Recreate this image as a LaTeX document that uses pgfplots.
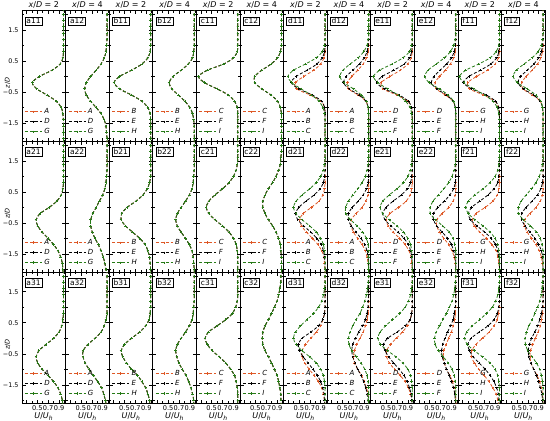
\documentclass[border=0pt]{standalone}
\usepackage{fontspec}
\setmainfont{DejaVu Sans}
\usepackage{pgfplots}
\usepackage{pgfplotstable}
\pgfplotsset{compat=1.18}
\definecolor{cr}{RGB}{222,88,38}
\definecolor{cg}{RGB}{38,122,22}

% columns a-c: the three series coincide, one column per panel
\pgfplotstableread[row sep=\\]{
z a11 a12 b11 b12 c11 c12\\
2.2 0.98 0.98 0.98 0.98 0.98 0.98\\
2.0 0.98 0.98 0.98 0.98 0.98 0.98\\
1.8 0.98 0.98 0.98 0.98 0.98 0.98\\
1.6 0.98 0.98 0.98 0.98 0.98 0.98\\
1.4 0.98 0.98 0.98 0.98 0.98 0.98\\
1.2 0.98 0.98 0.98 0.98 0.98 0.98\\
1.0 0.98 0.97 0.98 0.98 0.98 0.98\\
0.8 0.98 0.96 0.97 0.97 0.97 0.96\\
0.6 0.97 0.93 0.93 0.95 0.90 0.91\\
0.4 0.92 0.87 0.82 0.87 0.72 0.79\\
0.2 0.77 0.78 0.63 0.74 0.42 0.62\\
0.0 0.54 0.68 0.41 0.59 0.26 0.49\\
-0.2 0.41 0.60 0.31 0.52 0.37 0.49\\
-0.4 0.49 0.57 0.41 0.57 0.60 0.62\\
-0.6 0.68 0.60 0.63 0.69 0.81 0.79\\
-0.8 0.85 0.68 0.82 0.81 0.92 0.91\\
-1.0 0.94 0.78 0.93 0.90 0.97 0.96\\
-1.2 0.97 0.87 0.97 0.95 0.98 0.98\\
-1.4 0.98 0.93 0.98 0.97 0.98 0.98\\
-1.6 0.98 0.96 0.98 0.98 0.98 0.98\\
-1.8 0.98 0.97 0.98 0.98 0.98 0.98\\
-2.0 0.98 0.98 0.98 0.98 0.98 0.98\\
-2.2 0.98 0.98 0.98 0.98 0.98 0.98\\
}\rowA
\pgfplotstableread[row sep=\\]{
z a21 a22 b21 b22 c21 c22\\
2.2 0.98 0.98 0.98 0.98 0.98 0.98\\
2.0 0.98 0.98 0.98 0.98 0.98 0.98\\
1.8 0.98 0.98 0.98 0.98 0.98 0.98\\
1.6 0.98 0.98 0.98 0.98 0.98 0.97\\
1.4 0.98 0.98 0.98 0.98 0.97 0.96\\
1.2 0.98 0.98 0.98 0.98 0.95 0.93\\
1.0 0.98 0.97 0.98 0.97 0.90 0.88\\
0.8 0.98 0.96 0.96 0.96 0.82 0.82\\
0.6 0.97 0.94 0.92 0.94 0.70 0.74\\
0.4 0.94 0.90 0.84 0.89 0.56 0.68\\
0.2 0.86 0.84 0.71 0.82 0.45 0.64\\
0.0 0.72 0.78 0.55 0.74 0.40 0.64\\
-0.2 0.55 0.72 0.45 0.67 0.45 0.68\\
-0.4 0.48 0.68 0.44 0.64 0.56 0.74\\
-0.6 0.51 0.68 0.52 0.67 0.70 0.82\\
-0.8 0.59 0.71 0.65 0.74 0.82 0.88\\
-1.0 0.70 0.76 0.78 0.82 0.90 0.93\\
-1.2 0.80 0.82 0.88 0.89 0.95 0.96\\
-1.4 0.88 0.87 0.93 0.94 0.97 0.97\\
-1.6 0.93 0.91 0.96 0.96 0.98 0.98\\
-1.8 0.96 0.94 0.97 0.97 0.98 0.98\\
-2.0 0.97 0.96 0.98 0.98 0.98 0.98\\
-2.2 0.98 0.97 0.98 0.98 0.98 0.98\\
}\rowB
\pgfplotstableread[row sep=\\]{
z a31 a32 b31 b32 c31 c32\\
2.2 0.98 0.98 0.98 0.98 0.98 0.98\\
2.0 0.98 0.98 0.98 0.98 0.98 0.97\\
1.8 0.98 0.98 0.98 0.98 0.98 0.97\\
1.6 0.98 0.98 0.98 0.98 0.98 0.95\\
1.4 0.98 0.98 0.98 0.98 0.98 0.93\\
1.2 0.98 0.98 0.98 0.98 0.97 0.90\\
1.0 0.98 0.98 0.98 0.97 0.94 0.85\\
0.8 0.98 0.98 0.97 0.96 0.88 0.80\\
0.6 0.97 0.96 0.95 0.94 0.76 0.74\\
0.4 0.95 0.93 0.89 0.89 0.60 0.68\\
0.2 0.90 0.87 0.78 0.82 0.44 0.64\\
0.0 0.80 0.76 0.63 0.74 0.38 0.63\\
-0.2 0.66 0.63 0.50 0.67 0.42 0.64\\
-0.4 0.53 0.54 0.44 0.64 0.51 0.68\\
-0.6 0.48 0.54 0.47 0.66 0.64 0.74\\
-0.8 0.51 0.58 0.54 0.70 0.76 0.80\\
-1.0 0.59 0.65 0.63 0.76 0.85 0.85\\
-1.2 0.70 0.73 0.74 0.83 0.92 0.90\\
-1.4 0.80 0.81 0.82 0.88 0.95 0.93\\
-1.6 0.88 0.88 0.89 0.92 0.97 0.95\\
-1.8 0.93 0.92 0.93 0.95 0.98 0.97\\
-2.0 0.96 0.95 0.96 0.97 0.98 0.97\\
-2.2 0.97 0.97 0.97 0.97 0.98 0.98\\
}\rowC

% columns d-f: r = red, k = black, g = green
\pgfplotstableread[row sep=\\]{
z r k g\\
2.2 0.98 0.98 0.98\\ 2.0 0.98 0.98 0.98\\ 1.8 0.98 0.98 0.98\\ 1.6 0.98 0.98 0.98\\
1.4 0.98 0.98 0.98\\ 1.2 0.98 0.98 0.98\\ 1.0 0.98 0.98 0.97\\ 0.8 0.98 0.97 0.93\\
0.6 0.96 0.93 0.82\\ 0.4 0.90 0.83 0.62\\ 0.2 0.77 0.65 0.40\\ 0.0 0.59 0.45 0.30\\
-0.2 0.44 0.36 0.37\\ -0.4 0.46 0.50 0.54\\ -0.6 0.71 0.75 0.73\\ -0.8 0.91 0.92 0.87\\
-1.0 0.97 0.97 0.94\\ -1.2 0.98 0.98 0.97\\ -1.4 0.98 0.98 0.98\\ -1.6 0.98 0.98 0.98\\
-1.8 0.98 0.98 0.98\\ -2.0 0.98 0.98 0.98\\ -2.2 0.98 0.98 0.98\\
}\dA
\pgfplotstableread[row sep=\\]{
z r k g\\
2.2 0.98 0.98 0.98\\ 2.0 0.98 0.98 0.98\\ 1.8 0.98 0.98 0.98\\ 1.6 0.98 0.98 0.98\\
1.4 0.98 0.98 0.98\\ 1.2 0.98 0.98 0.97\\ 1.0 0.98 0.97 0.95\\ 0.8 0.97 0.95 0.89\\
0.6 0.94 0.90 0.79\\ 0.4 0.88 0.81 0.64\\ 0.2 0.78 0.69 0.51\\ 0.0 0.67 0.57 0.45\\
-0.2 0.59 0.52 0.53\\ -0.4 0.61 0.62 0.70\\ -0.6 0.79 0.81 0.85\\ -0.8 0.93 0.93 0.94\\
-1.0 0.97 0.97 0.97\\ -1.2 0.98 0.98 0.98\\ -1.4 0.98 0.98 0.98\\ -1.6 0.98 0.98 0.98\\
-1.8 0.98 0.98 0.98\\ -2.0 0.98 0.98 0.98\\ -2.2 0.98 0.98 0.98\\
}\dB
\pgfplotstableread[row sep=\\]{
z r k g\\
2.2 0.98 0.98 0.98\\ 2.0 0.98 0.98 0.98\\ 1.8 0.98 0.98 0.98\\ 1.6 0.98 0.98 0.98\\
1.4 0.98 0.98 0.98\\ 1.2 0.98 0.98 0.98\\ 1.0 0.98 0.98 0.97\\ 0.8 0.98 0.97 0.93\\
0.6 0.96 0.93 0.81\\ 0.4 0.90 0.83 0.61\\ 0.2 0.76 0.64 0.38\\ 0.0 0.57 0.43 0.27\\
-0.2 0.41 0.33 0.35\\ -0.4 0.44 0.47 0.53\\ -0.6 0.70 0.74 0.72\\ -0.8 0.90 0.91 0.86\\
-1.0 0.97 0.97 0.94\\ -1.2 0.98 0.98 0.97\\ -1.4 0.98 0.98 0.98\\ -1.6 0.98 0.98 0.98\\
-1.8 0.98 0.98 0.98\\ -2.0 0.98 0.98 0.98\\ -2.2 0.98 0.98 0.98\\
}\eA
\pgfplotstableread[row sep=\\]{
z r k g\\
2.2 0.98 0.98 0.98\\ 2.0 0.98 0.98 0.98\\ 1.8 0.98 0.98 0.98\\ 1.6 0.98 0.98 0.98\\
1.4 0.98 0.98 0.98\\ 1.2 0.98 0.98 0.97\\ 1.0 0.98 0.97 0.94\\ 0.8 0.97 0.95 0.88\\
0.6 0.94 0.90 0.77\\ 0.4 0.88 0.81 0.62\\ 0.2 0.79 0.69 0.47\\ 0.0 0.68 0.58 0.41\\
-0.2 0.60 0.53 0.49\\ -0.4 0.62 0.63 0.68\\ -0.6 0.79 0.81 0.84\\ -0.8 0.93 0.93 0.94\\
-1.0 0.97 0.97 0.97\\ -1.2 0.98 0.98 0.98\\ -1.4 0.98 0.98 0.98\\ -1.6 0.98 0.98 0.98\\
-1.8 0.98 0.98 0.98\\ -2.0 0.98 0.98 0.98\\ -2.2 0.98 0.98 0.98\\
}\eB
\pgfplotstableread[row sep=\\]{
z r k g\\
2.2 0.98 0.98 0.98\\ 2.0 0.98 0.98 0.98\\ 1.8 0.98 0.98 0.98\\ 1.6 0.98 0.98 0.98\\
1.4 0.98 0.98 0.98\\ 1.2 0.98 0.98 0.98\\ 1.0 0.98 0.98 0.97\\ 0.8 0.98 0.97 0.92\\
0.6 0.96 0.93 0.81\\ 0.4 0.90 0.82 0.60\\ 0.2 0.76 0.63 0.36\\ 0.0 0.56 0.42 0.25\\
-0.2 0.40 0.32 0.33\\ -0.4 0.43 0.47 0.51\\ -0.6 0.69 0.74 0.71\\ -0.8 0.90 0.91 0.86\\
-1.0 0.97 0.97 0.94\\ -1.2 0.98 0.98 0.97\\ -1.4 0.98 0.98 0.98\\ -1.6 0.98 0.98 0.98\\
-1.8 0.98 0.98 0.98\\ -2.0 0.98 0.98 0.98\\ -2.2 0.98 0.98 0.98\\
}\fA
\pgfplotstableread[row sep=\\]{
z r k g\\
2.2 0.98 0.98 0.98\\ 2.0 0.98 0.98 0.98\\ 1.8 0.98 0.98 0.98\\ 1.6 0.98 0.98 0.98\\
1.4 0.98 0.98 0.98\\ 1.2 0.98 0.98 0.97\\ 1.0 0.98 0.97 0.95\\ 0.8 0.97 0.95 0.89\\
0.6 0.94 0.90 0.78\\ 0.4 0.88 0.81 0.63\\ 0.2 0.78 0.69 0.49\\ 0.0 0.67 0.57 0.43\\
-0.2 0.59 0.52 0.51\\ -0.4 0.61 0.62 0.69\\ -0.6 0.79 0.81 0.85\\ -0.8 0.93 0.93 0.94\\
-1.0 0.97 0.97 0.97\\ -1.2 0.98 0.98 0.98\\ -1.4 0.98 0.98 0.98\\ -1.6 0.98 0.98 0.98\\
-1.8 0.98 0.98 0.98\\ -2.0 0.98 0.98 0.98\\ -2.2 0.98 0.98 0.98\\
}\fB
% row 2
\pgfplotstableread[row sep=\\]{
z r k g\\
2.2 0.98 0.98 0.98\\ 2.0 0.98 0.98 0.98\\ 1.8 0.98 0.98 0.98\\ 1.6 0.98 0.98 0.98\\
1.4 0.98 0.98 0.97\\ 1.2 0.98 0.98 0.95\\ 1.0 0.98 0.97 0.90\\ 0.8 0.98 0.95 0.82\\
0.6 0.97 0.89 0.70\\ 0.4 0.94 0.78 0.56\\ 0.2 0.87 0.63 0.45\\ 0.0 0.73 0.50 0.40\\
-0.2 0.58 0.44 0.45\\ -0.4 0.51 0.48 0.56\\ -0.6 0.55 0.59 0.70\\ -0.8 0.64 0.72 0.82\\
-1.0 0.75 0.83 0.90\\ -1.2 0.85 0.91 0.95\\ -1.4 0.92 0.95 0.97\\ -1.6 0.96 0.97 0.98\\
-1.8 0.97 0.98 0.98\\ -2.0 0.98 0.98 0.98\\ -2.2 0.98 0.98 0.98\\
}\dC
\pgfplotstableread[row sep=\\]{
z r k g\\
2.2 0.98 0.98 0.98\\ 2.0 0.98 0.98 0.98\\ 1.8 0.98 0.98 0.98\\ 1.6 0.98 0.98 0.98\\
1.4 0.98 0.98 0.97\\ 1.2 0.98 0.98 0.95\\ 1.0 0.98 0.98 0.92\\ 0.8 0.98 0.97 0.86\\
0.6 0.98 0.94 0.78\\ 0.4 0.97 0.88 0.69\\ 0.2 0.93 0.79 0.61\\ 0.0 0.86 0.68 0.56\\
-0.2 0.75 0.61 0.56\\ -0.4 0.66 0.61 0.65\\ -0.6 0.66 0.66 0.77\\ -0.8 0.70 0.75 0.87\\
-1.0 0.78 0.84 0.94\\ -1.2 0.86 0.91 0.97\\ -1.4 0.92 0.95 0.98\\ -1.6 0.95 0.97 0.98\\
-1.8 0.97 0.98 0.98\\ -2.0 0.98 0.98 0.98\\ -2.2 0.98 0.98 0.98\\
}\dD
\pgfplotstableread[row sep=\\]{
z r k g\\
2.2 0.98 0.98 0.98\\ 2.0 0.98 0.98 0.98\\ 1.8 0.98 0.98 0.98\\ 1.6 0.98 0.98 0.98\\
1.4 0.98 0.98 0.97\\ 1.2 0.98 0.98 0.95\\ 1.0 0.98 0.97 0.90\\ 0.8 0.98 0.95 0.82\\
0.6 0.97 0.89 0.70\\ 0.4 0.94 0.78 0.56\\ 0.2 0.87 0.63 0.44\\ 0.0 0.73 0.50 0.39\\
-0.2 0.57 0.44 0.44\\ -0.4 0.50 0.48 0.56\\ -0.6 0.54 0.59 0.70\\ -0.8 0.63 0.72 0.82\\
-1.0 0.75 0.83 0.90\\ -1.2 0.85 0.91 0.95\\ -1.4 0.92 0.95 0.97\\ -1.6 0.96 0.97 0.98\\
-1.8 0.97 0.98 0.98\\ -2.0 0.98 0.98 0.98\\ -2.2 0.98 0.98 0.98\\
}\eC
\pgfplotstableread[row sep=\\]{
z r k g\\
2.2 0.98 0.98 0.98\\ 2.0 0.98 0.98 0.98\\ 1.8 0.98 0.98 0.98\\ 1.6 0.98 0.98 0.98\\
1.4 0.98 0.98 0.97\\ 1.2 0.98 0.98 0.95\\ 1.0 0.98 0.98 0.91\\ 0.8 0.98 0.97 0.85\\
0.6 0.98 0.94 0.76\\ 0.4 0.97 0.87 0.66\\ 0.2 0.93 0.77 0.56\\ 0.0 0.85 0.65 0.51\\
-0.2 0.73 0.57 0.51\\ -0.4 0.63 0.57 0.61\\ -0.6 0.63 0.63 0.74\\ -0.8 0.68 0.73 0.86\\
-1.0 0.76 0.83 0.93\\ -1.2 0.85 0.90 0.96\\ -1.4 0.91 0.94 0.98\\ -1.6 0.95 0.97 0.98\\
-1.8 0.97 0.98 0.98\\ -2.0 0.98 0.98 0.98\\ -2.2 0.98 0.98 0.98\\
}\eD
\pgfplotstableread[row sep=\\]{
z r k g\\
2.2 0.98 0.98 0.98\\ 2.0 0.98 0.98 0.98\\ 1.8 0.98 0.98 0.98\\ 1.6 0.98 0.98 0.98\\
1.4 0.98 0.98 0.97\\ 1.2 0.98 0.98 0.95\\ 1.0 0.98 0.97 0.90\\ 0.8 0.98 0.95 0.81\\
0.6 0.97 0.88 0.68\\ 0.4 0.94 0.77 0.53\\ 0.2 0.86 0.62 0.41\\ 0.0 0.72 0.47 0.36\\
-0.2 0.55 0.41 0.41\\ -0.4 0.48 0.45 0.53\\ -0.6 0.52 0.57 0.68\\ -0.8 0.62 0.71 0.81\\
-1.0 0.74 0.83 0.90\\ -1.2 0.84 0.91 0.95\\ -1.4 0.92 0.95 0.97\\ -1.6 0.95 0.97 0.98\\
-1.8 0.97 0.98 0.98\\ -2.0 0.98 0.98 0.98\\ -2.2 0.98 0.98 0.98\\
}\fC
\pgfplotstableread[row sep=\\]{
z r k g\\
2.2 0.98 0.98 0.98\\ 2.0 0.98 0.98 0.98\\ 1.8 0.98 0.98 0.98\\ 1.6 0.98 0.98 0.98\\
1.4 0.98 0.98 0.97\\ 1.2 0.98 0.98 0.95\\ 1.0 0.98 0.98 0.91\\ 0.8 0.98 0.97 0.85\\
0.6 0.98 0.94 0.77\\ 0.4 0.97 0.88 0.67\\ 0.2 0.93 0.78 0.58\\ 0.0 0.85 0.67 0.53\\
-0.2 0.74 0.59 0.53\\ -0.4 0.64 0.59 0.62\\ -0.6 0.64 0.65 0.75\\ -0.8 0.69 0.74 0.86\\
-1.0 0.77 0.83 0.93\\ -1.2 0.85 0.90 0.96\\ -1.4 0.91 0.95 0.98\\ -1.6 0.95 0.97 0.98\\
-1.8 0.97 0.98 0.98\\ -2.0 0.98 0.98 0.98\\ -2.2 0.98 0.98 0.98\\
}\fD
% row 3
\pgfplotstableread[row sep=\\]{
z r k g\\
2.2 0.98 0.98 0.98\\ 2.0 0.98 0.98 0.98\\ 1.8 0.98 0.98 0.98\\ 1.6 0.98 0.98 0.97\\
1.4 0.98 0.98 0.95\\ 1.2 0.98 0.98 0.92\\ 1.0 0.98 0.98 0.86\\ 0.8 0.97 0.97 0.77\\
0.6 0.94 0.94 0.65\\ 0.4 0.90 0.86 0.53\\ 0.2 0.82 0.72 0.44\\ 0.0 0.72 0.56 0.40\\
-0.2 0.62 0.49 0.45\\ -0.4 0.56 0.51 0.56\\ -0.6 0.56 0.58 0.70\\ -0.8 0.61 0.67 0.82\\
-1.0 0.69 0.76 0.90\\ -1.2 0.78 0.84 0.95\\ -1.4 0.86 0.90 0.97\\ -1.6 0.92 0.94 0.98\\
-1.8 0.95 0.96 0.98\\ -2.0 0.97 0.97 0.98\\ -2.2 0.98 0.98 0.98\\
}\dE
\pgfplotstableread[row sep=\\]{
z r k g\\
2.2 0.98 0.98 0.98\\ 2.0 0.98 0.98 0.98\\ 1.8 0.98 0.98 0.97\\ 1.6 0.98 0.98 0.96\\
1.4 0.98 0.98 0.94\\ 1.2 0.98 0.97 0.91\\ 1.0 0.98 0.97 0.87\\ 0.8 0.97 0.95 0.82\\
0.6 0.95 0.92 0.75\\ 0.4 0.92 0.87 0.69\\ 0.2 0.88 0.80 0.64\\ 0.0 0.82 0.74 0.61\\
-0.2 0.76 0.69 0.62\\ -0.4 0.72 0.67 0.67\\ -0.6 0.70 0.69 0.76\\ -0.8 0.72 0.73 0.84\\
-1.0 0.78 0.78 0.91\\ -1.2 0.85 0.84 0.95\\ -1.4 0.90 0.89 0.97\\ -1.6 0.94 0.93 0.98\\
-1.8 0.97 0.95 0.98\\ -2.0 0.98 0.97 0.98\\ -2.2 0.98 0.97 0.98\\
}\dF
\pgfplotstableread[row sep=\\]{
z r k g\\
2.2 0.98 0.98 0.98\\ 2.0 0.98 0.98 0.98\\ 1.8 0.98 0.98 0.98\\ 1.6 0.98 0.98 0.97\\
1.4 0.98 0.98 0.95\\ 1.2 0.98 0.98 0.91\\ 1.0 0.98 0.98 0.85\\ 0.8 0.97 0.97 0.75\\
0.6 0.94 0.94 0.62\\ 0.4 0.89 0.85 0.49\\ 0.2 0.80 0.70 0.39\\ 0.0 0.69 0.53 0.35\\
-0.2 0.58 0.45 0.40\\ -0.4 0.51 0.48 0.53\\ -0.6 0.51 0.55 0.68\\ -0.8 0.56 0.64 0.81\\
-1.0 0.66 0.74 0.90\\ -1.2 0.76 0.83 0.95\\ -1.4 0.85 0.89 0.97\\ -1.6 0.91 0.93 0.98\\
-1.8 0.95 0.96 0.98\\ -2.0 0.97 0.97 0.98\\ -2.2 0.98 0.98 0.98\\
}\eE
\pgfplotstableread[row sep=\\]{
z r k g\\
2.2 0.98 0.98 0.98\\ 2.0 0.98 0.98 0.98\\ 1.8 0.98 0.98 0.97\\ 1.6 0.98 0.98 0.96\\
1.4 0.98 0.98 0.94\\ 1.2 0.98 0.98 0.91\\ 1.0 0.98 0.97 0.86\\ 0.8 0.97 0.95 0.81\\
0.6 0.96 0.93 0.74\\ 0.4 0.93 0.88 0.68\\ 0.2 0.90 0.83 0.62\\ 0.0 0.85 0.78 0.59\\
-0.2 0.80 0.74 0.60\\ -0.4 0.76 0.72 0.66\\ -0.6 0.75 0.73 0.75\\ -0.8 0.77 0.77 0.84\\
-1.0 0.81 0.81 0.91\\ -1.2 0.87 0.86 0.95\\ -1.4 0.92 0.90 0.97\\ -1.6 0.95 0.94 0.98\\
-1.8 0.97 0.96 0.98\\ -2.0 0.98 0.97 0.98\\ -2.2 0.98 0.98 0.98\\
}\eF
\pgfplotstableread[row sep=\\]{
z r k g\\
2.2 0.98 0.98 0.98\\ 2.0 0.98 0.98 0.98\\ 1.8 0.98 0.98 0.98\\ 1.6 0.98 0.98 0.97\\
1.4 0.98 0.98 0.95\\ 1.2 0.98 0.98 0.91\\ 1.0 0.98 0.97 0.85\\ 0.8 0.96 0.94 0.74\\
0.6 0.94 0.88 0.62\\ 0.4 0.88 0.77 0.48\\ 0.2 0.79 0.61 0.38\\ 0.0 0.67 0.46 0.34\\
-0.2 0.55 0.40 0.39\\ -0.4 0.47 0.43 0.52\\ -0.6 0.47 0.50 0.67\\ -0.8 0.52 0.61 0.81\\
-1.0 0.60 0.72 0.90\\ -1.2 0.70 0.81 0.95\\ -1.4 0.79 0.88 0.97\\ -1.6 0.86 0.93 0.98\\
-1.8 0.92 0.96 0.98\\ -2.0 0.95 0.97 0.98\\ -2.2 0.97 0.98 0.98\\
}\fE
\pgfplotstableread[row sep=\\]{
z r k g\\
2.2 0.98 0.98 0.98\\ 2.0 0.98 0.98 0.98\\ 1.8 0.98 0.98 0.97\\ 1.6 0.98 0.98 0.96\\
1.4 0.98 0.98 0.95\\ 1.2 0.98 0.98 0.92\\ 1.0 0.98 0.97 0.88\\ 0.8 0.97 0.95 0.83\\
0.6 0.95 0.92 0.78\\ 0.4 0.93 0.88 0.72\\ 0.2 0.89 0.83 0.68\\ 0.0 0.84 0.77 0.65\\
-0.2 0.79 0.73 0.66\\ -0.4 0.75 0.71 0.70\\ -0.6 0.74 0.72 0.78\\ -0.8 0.76 0.76 0.86\\
-1.0 0.81 0.81 0.92\\ -1.2 0.87 0.86 0.95\\ -1.4 0.92 0.90 0.97\\ -1.6 0.95 0.93 0.98\\
-1.8 0.97 0.96 0.98\\ -2.0 0.98 0.97 0.98\\ -2.2 0.98 0.98 0.98\\
}\fF

\newcommand\fs{\fontsize{7}{8}\selectfont}
\pgfplotsset{
  every axis title/.style={at={(0.5,1)}, anchor=south, inner sep=0pt, yshift=2pt,
    font=\fontsize{8}{9}\selectfont},
  pan/.style={
    scale only axis, width=43.6pt, height=130.9pt, anchor=north west,
    xmin=0.22, xmax=1.02, ymin=-2.1, ymax=2.12,
    xtick={0.3,0.5,0.7,0.9}, minor xtick={0.4,0.6,0.8,1.0}, xticklabels={},
    ytick={-1.5,-0.5,0.5,1.5}, minor ytick={-2,-1,0,1,2}, yticklabels={},
    tick align=inside, tick pos=both,
    major tick length=3.5pt, minor tick length=2pt,
    every tick/.append style={line width=0.5pt, black},
    axis line style={line width=0.8pt},
    yticklabel style={font=\fontsize{6.4}{7}\selectfont},
    legend style={draw=none, fill=none, at={(0.03,0.025)}, anchor=south west,
      font=\fs\itshape, row sep=-0.6pt, inner sep=1pt},
    legend cell align=left,
  },
  first/.style={yticklabels={−1.5,−0.5,0.5,1.5},
    ylabel={\textit{z}/\textit{D}},
    ylabel style={at={(axis description cs:-0.33,0.45)}, anchor=center,
      font=\fontsize{6.5}{7}\selectfont}},
  bottom/.style={xticklabels={,0.5,0.7,0.9},
    xticklabel style={font=\fontsize{6.6}{7}\selectfont, yshift=1pt},
    xlabel={\textit{U}/\textit{U}\textsubscript{\textit{h}}},
    xlabel style={font=\fontsize{8}{9}\selectfont, yshift=5pt}},
  ttl/.style={title={\textit{x}/\textit{D} = #1}},
  sr/.style={cr, densely dashed, line width=0.8pt, smooth, mark=+, mark size=1.2pt, mark options={solid}},
  sk/.style={black, densely dashed, line width=0.8pt, smooth, mark=+, mark size=1.2pt, mark options={solid}},
  sg/.style={cg, densely dashed, line width=0.8pt, smooth, mark=+, mark size=1.2pt, mark options={solid}},
}
\tikzset{lab/.style={draw, line width=0.7pt, fill=white, inner sep=1.3pt,
  anchor=north west, font=\fontsize{7.5}{8}\selectfont}}

% single-column panel (three coinciding series)
\newcommand\pS[7]{%
\begin{axis}[pan, at={(#1pt,#2pt)}, #3]
\addplot[sr] table[x=#6, y=z] {#5};
\addplot[sk] table[x=#6, y=z] {#5};
\addplot[sg] table[x=#6, y=z] {#5};
\legend{#7}
\node[lab] at (rel axis cs:0.065,0.955) {#4};
\end{axis}}
% three-column panel
\newcommand\pT[6]{%
\begin{axis}[pan, at={(#1pt,#2pt)}, #3]
\addplot[sr] table[x=r, y=z] {#5};
\addplot[sk] table[x=k, y=z] {#5};
\addplot[sg] table[x=g, y=z] {#5};
\legend{#6}
\node[lab] at (rel axis cs:0.065,0.955) {#4};
\end{axis}}

\begin{document}
\begin{tikzpicture}
\path[use as bounding box] (0,0) rectangle (550pt,421pt);
% row 1
\pS{22}{410.3}{first,ttl=2}{a11}{\rowA}{a11}{A,D,G}
\pS{65.6}{410.3}{ttl=4}{a12}{\rowA}{a12}{A,D,G}
\pS{109.2}{410.3}{ttl=2}{b11}{\rowA}{b11}{B,E,H}
\pS{152.8}{410.3}{ttl=4}{b12}{\rowA}{b12}{B,E,H}
\pS{196.4}{410.3}{ttl=2}{c11}{\rowA}{c11}{C,F,I}
\pS{240}{410.3}{ttl=4}{c12}{\rowA}{c12}{C,F,I}
\pT{283.6}{410.3}{ttl=2}{d11}{\dA}{A,B,C}
\pT{327.2}{410.3}{ttl=4}{d12}{\dB}{A,B,C}
\pT{370.8}{410.3}{ttl=2}{e11}{\eA}{D,E,F}
\pT{414.4}{410.3}{ttl=4}{e12}{\eB}{D,E,F}
\pT{458}{410.3}{ttl=2}{f11}{\fA}{G,H,I}
\pT{501.6}{410.3}{ttl=4}{f12}{\fB}{G,H,I}
% row 2
\pS{22}{279.4}{first}{a21}{\rowB}{a21}{A,D,G}
\pS{65.6}{279.4}{}{a22}{\rowB}{a22}{A,D,G}
\pS{109.2}{279.4}{}{b21}{\rowB}{b21}{B,E,H}
\pS{152.8}{279.4}{}{b22}{\rowB}{b22}{B,E,H}
\pS{196.4}{279.4}{}{c21}{\rowB}{c21}{C,F,I}
\pS{240}{279.4}{}{c22}{\rowB}{c22}{C,F,I}
\pT{283.6}{279.4}{}{d21}{\dC}{A,B,C}
\pT{327.2}{279.4}{}{d22}{\dD}{A,B,C}
\pT{370.8}{279.4}{}{e21}{\eC}{D,E,F}
\pT{414.4}{279.4}{}{e22}{\eD}{D,E,F}
\pT{458}{279.4}{}{f21}{\fC}{G,H,I}
\pT{501.6}{279.4}{}{f22}{\fD}{G,H,I}
% row 3
\pS{22}{148.5}{first,bottom}{a31}{\rowC}{a31}{A,D,G}
\pS{65.6}{148.5}{bottom}{a32}{\rowC}{a32}{A,D,G}
\pS{109.2}{148.5}{bottom}{b31}{\rowC}{b31}{B,E,H}
\pS{152.8}{148.5}{bottom}{b32}{\rowC}{b32}{B,E,H}
\pS{196.4}{148.5}{bottom}{c31}{\rowC}{c31}{C,F,I}
\pS{240}{148.5}{bottom}{c32}{\rowC}{c32}{C,F,I}
\pT{283.6}{148.5}{bottom}{d31}{\dE}{A,B,C}
\pT{327.2}{148.5}{bottom}{d32}{\dF}{A,B,C}
\pT{370.8}{148.5}{bottom}{e31}{\eE}{D,E,F}
\pT{414.4}{148.5}{bottom}{e32}{\eF}{D,E,F}
\pT{458}{148.5}{bottom}{f31}{\fE}{G,H,I}
\pT{501.6}{148.5}{bottom}{f32}{\fF}{G,H,I}
\end{tikzpicture}
\end{document}
